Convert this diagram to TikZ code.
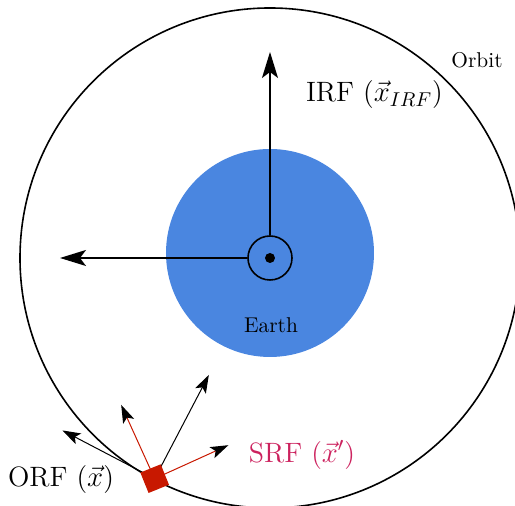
\documentclass[tikz,border=0pt]{standalone}
\usepackage{amsmath}
\usepackage{xcolor}
\usetikzlibrary{arrows.meta}

\definecolor{earthblue}{RGB}{74,134,224}
\definecolor{satred}{RGB}{200,24,0}
\definecolor{srfred}{RGB}{204,34,94}

\begin{document}
\begin{tikzpicture}[x=0.5pt, y=0.5pt, >=Stealth,
    bigarrow/.style={thick, -{Stealth[length=13pt, width=8pt, inset=3pt]}},
    smallarrow/.style={line width=0.5pt, -{Stealth[length=9pt, width=6pt, inset=2pt]}},
    srfarrow/.style={line width=0.5pt, draw=satred, -{Stealth[length=9pt, width=6pt, inset=2pt, black]}},
    smalltext/.style={font=\fontsize{10.7}{13}\selectfont},
    bigtext/.style={font=\fontsize{14}{17}\selectfont}]
    \clip (-270,-248) rectangle (245,258);

    % Orbit
    \draw [thick] (0,0) circle (250);
    \node [smalltext] (orbitlabel) at (207,198) {Orbit};

    % Earth
    \fill [earthblue] (0,5) circle (104);
    \node [smalltext] (earthlabel) at (1,-67) {Earth};

    % IRF axes (z out of page)
    \node [circle, draw, thick, minimum size=22pt, inner sep=0pt] (irf) at (0,0) {};
    \fill (irf.center) circle (5);
    \coordinate (irfy) at (0,206);
    \coordinate (irfx) at (-210,0);
    \draw [bigarrow] (irf.north) -- (irfy);
    \draw [bigarrow] (irf.west) -- (irfx);
    \node [anchor=west, bigtext] (irflabel) at (29,163) {IRF ($\vec{x}_{IRF}$)};

    % Satellite and ORF
    \coordinate (sat) at (242.4:249);
    \path (sat) ++(152.4:104) coordinate (orfx);
    \path (sat) ++(62.4:117) coordinate (orfy);
    \draw [smallarrow] (sat) -- (orfx);
    \draw [smallarrow] (sat) -- (orfy);
    \node [bigtext] (orflabel) at (-209,-222) {ORF ($\vec{x}$)};

    % SRF
    \node [rectangle, fill=satred, minimum size=11pt, inner sep=0pt, rotate=22] (satbox) at (sat) {};
    \path (satbox.center) ++(24.4:81) coordinate (srfx);
    \path (satbox.center) ++(114.4:81) coordinate (srfy);
    \draw [srfarrow] (satbox.center) -- (srfx);
    \draw [srfarrow] (satbox.center) -- (srfy);
    \node [bigtext, text=srfred] (srflabel) at (32,-197) {SRF ($\vec{x}'$)};
\end{tikzpicture}
\end{document}
